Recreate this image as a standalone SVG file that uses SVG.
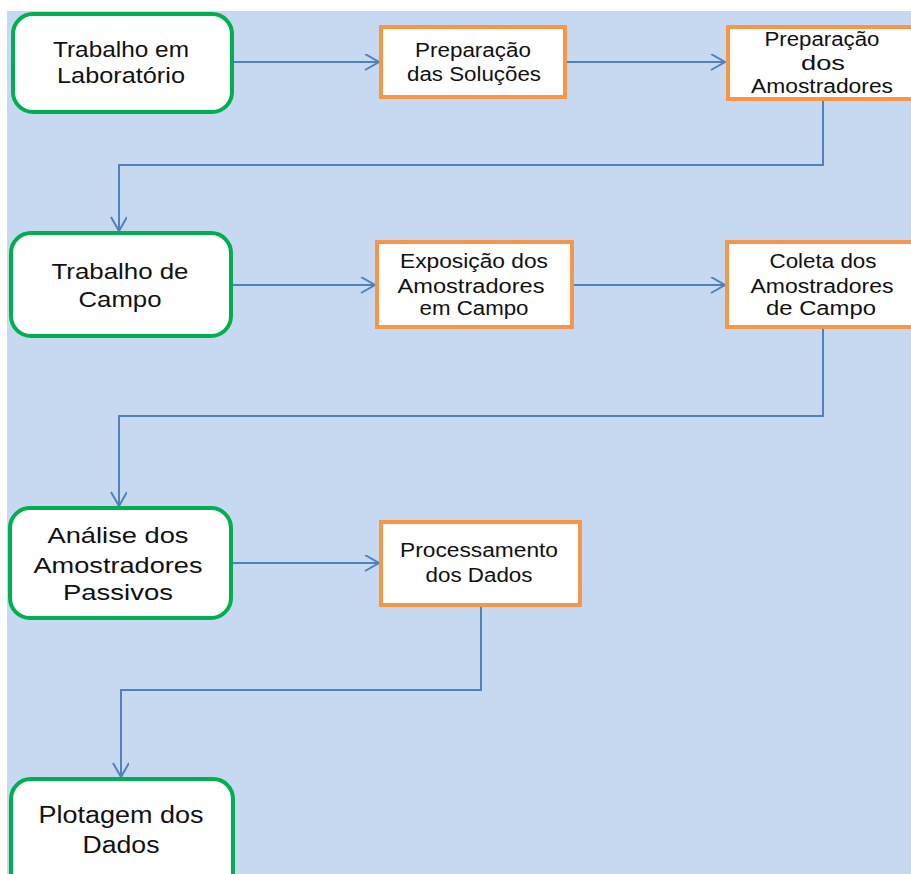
<svg xmlns="http://www.w3.org/2000/svg" width="911" height="874" viewBox="0 0 911 874">
<style>
.g{fill:#fff;stroke:#00B050;stroke-width:4}
.o{fill:#fff;stroke:#F79646;stroke-width:4}
.c{fill:none;stroke:#4F81BD;stroke-width:2;marker-end:url(#ah)}
.tg{font-family:"Liberation Sans",Arial,sans-serif;font-size:21.5px;fill:#111;text-anchor:middle}
.tb{font-family:"Liberation Sans",Arial,sans-serif;font-size:23.5px;fill:#111;text-anchor:middle}
.to{font-family:"Liberation Sans",Arial,sans-serif;font-size:19.5px;fill:#111;text-anchor:middle}
</style>
<defs>
<marker id="ah" markerUnits="userSpaceOnUse" markerWidth="20" markerHeight="20" refX="15" refY="8" orient="auto">
<path d="M1,0 L15,8 L1,16" fill="none" stroke="#4F81BD" stroke-width="2"/>
</marker>
</defs>
<rect x="0" y="0" width="911" height="874" fill="#fff"/>
<rect x="7" y="11" width="904" height="863" fill="#C6D9F0"/>
<g id="connectors">
<path class="c" d="M232,62 H379"/>
<path class="c" d="M565,62 H725"/>
<path class="c" d="M823,100 V165 H119 V231"/>
<path class="c" d="M231,285 H375"/>
<path class="c" d="M572,285 H725"/>
<path class="c" d="M823,327 V416 H119 V506"/>
<path class="c" d="M231,563 H379"/>
<path class="c" d="M481,605 V690 H121 V777"/>
</g>
<g id="n1"><rect class="g" x="13" y="14" width="219" height="98" rx="20"/>
<text class="tg" x="121" y="57" textLength="136" lengthAdjust="spacingAndGlyphs">Trabalho em</text><text class="tg" x="121" y="83" textLength="128" lengthAdjust="spacingAndGlyphs">Laboratório</text></g>
<g id="n2"><rect class="o" x="381" y="27" width="184" height="70"/>
<text class="to" x="473" y="57" textLength="116" lengthAdjust="spacingAndGlyphs">Preparação</text><text class="to" x="474" y="81" textLength="134" lengthAdjust="spacingAndGlyphs">das Soluções</text></g>
<g id="n3"><rect class="o" x="728" y="27" width="189" height="72"/>
<text class="to" x="822" y="46" textLength="115" lengthAdjust="spacingAndGlyphs">Preparação</text><text class="to" x="823" y="70" textLength="44" lengthAdjust="spacingAndGlyphs">dos</text><text class="to" x="822" y="93" textLength="142" lengthAdjust="spacingAndGlyphs">Amostradores</text></g>
<g id="n4"><rect class="g" x="11" y="233" width="220" height="103" rx="20"/>
<text class="tg" x="120" y="279" textLength="137" lengthAdjust="spacingAndGlyphs">Trabalho de</text><text class="tg" x="120" y="307" textLength="83" lengthAdjust="spacingAndGlyphs">Campo</text></g>
<g id="n5"><rect class="o" x="377" y="242" width="195" height="85"/>
<text class="to" x="474" y="268" textLength="148" lengthAdjust="spacingAndGlyphs">Exposição dos</text><text class="to" x="471" y="293" textLength="147" lengthAdjust="spacingAndGlyphs">Amostradores</text><text class="to" x="474" y="315" textLength="109" lengthAdjust="spacingAndGlyphs">em Campo</text></g>
<g id="n6"><rect class="o" x="727" y="242" width="190" height="85"/>
<text class="to" x="823" y="268" textLength="107" lengthAdjust="spacingAndGlyphs">Coleta dos</text><text class="to" x="822" y="293" textLength="143" lengthAdjust="spacingAndGlyphs">Amostradores</text><text class="to" x="821" y="315" textLength="110" lengthAdjust="spacingAndGlyphs">de Campo</text></g>
<g id="n7"><rect class="g" x="10" y="508" width="221" height="110" rx="20"/>
<text class="tg" x="118" y="543" textLength="141" lengthAdjust="spacingAndGlyphs">Análise dos</text><text class="tg" x="118" y="573" textLength="169" lengthAdjust="spacingAndGlyphs">Amostradores</text><text class="tg" x="118" y="600" textLength="110" lengthAdjust="spacingAndGlyphs">Passivos</text></g>
<g id="n8"><rect class="o" x="381" y="522" width="199" height="83"/>
<text class="to" x="479" y="557" textLength="158" lengthAdjust="spacingAndGlyphs">Processamento</text><text class="to" x="479" y="582" textLength="107" lengthAdjust="spacingAndGlyphs">dos Dados</text></g>
<g id="n9"><rect class="g" x="11" y="779" width="222" height="120" rx="20"/>
<text class="tb" x="121" y="823" textLength="165" lengthAdjust="spacingAndGlyphs">Plotagem dos</text><text class="tb" x="121" y="853" textLength="77" lengthAdjust="spacingAndGlyphs">Dados</text></g>
</svg>
